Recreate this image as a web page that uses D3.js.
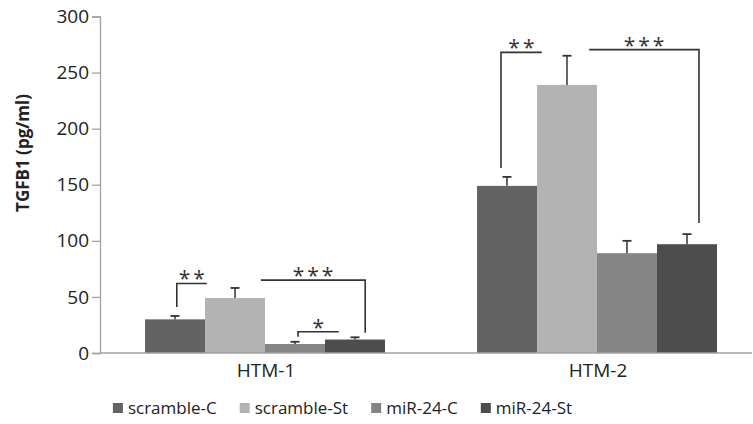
<!DOCTYPE html>
<html>
<head>
<meta charset="utf-8">
<script src="https://cdn.jsdelivr.net/npm/d3@7"></script>
<style>
  html, body { margin: 0; padding: 0; background: #fff; }
  svg { display: block; font-family: "Open Sans", sans-serif; }
</style>
</head>
<body>
<svg id="chart" width="753" height="424"></svg>
<script>
const categories = ["HTM-1", "HTM-2"];
const seriesNames = ["scramble-C", "scramble-St", "miR-24-C", "miR-24-St"];
const seriesColors = ["#636363", "#b3b3b3", "#858585", "#4d4d4d"];
const values = {
  "HTM-1": [30, 49, 8, 12],
  "HTM-2": [149, 239, 89, 97]
};
const errorTops = {
  "HTM-1": [33, 58, 10, 14],
  "HTM-2": [157, 265, 100, 106]
};
const yTicks = [0, 50, 100, 150, 200, 250, 300];
// significance brackets: group, from series (+fraction of bar), to series (+fraction), level, left leg bottom, right leg bottom, label
const brackets = [
  { g: "HTM-1", a: 0, fa: 0.53, b: 1, fb: 0.03, level: 62, legA: 41, legB: null, label: "**" },
  { g: "HTM-1", a: 1, fa: 0.93, b: 3, fb: 0.67, level: 65, legA: null, legB: 18, label: "***" },
  { g: "HTM-1", a: 2, fa: 0.55, b: 3, fb: 0.23, level: 19, legA: 14.5, legB: null, label: "*" },
  { g: "HTM-2", a: 0, fa: 0.40, b: 1, fb: 0.08, level: 268, legA: 165, legB: null, label: "**" },
  { g: "HTM-2", a: 1, fa: 0.87, b: 3, fb: 0.70, level: 270.5, legA: null, legB: 116, label: "***" }
];

const svg = d3.select("#chart");
const axisColor = "#a0a0a0";

const y = d3.scaleLinear().domain([0, 300]).range([353, 16.5]);
const x0 = d3.scaleBand().domain(categories).range([99, 763]).paddingInner(0.2771).paddingOuter(0.1386);
const x1 = d3.scaleBand().domain(seriesNames).range([0, x0.bandwidth()]).padding(0);

// y axis
const yAxis = svg.append("g").attr("transform", "translate(100,0)")
  .call(d3.axisLeft(y).tickValues(yTicks).tickSize(8).tickPadding(3));
yAxis.select(".domain").attr("stroke", axisColor).attr("stroke-width", 1.3);
yAxis.selectAll(".tick line").attr("stroke", axisColor).attr("stroke-width", 1.3);
yAxis.selectAll(".tick text").attr("fill", "#222").style("font-size", "19px").style("font-family", "'Open Sans', sans-serif");

// y title
svg.append("text")
  .attr("transform", "translate(29,153) rotate(-90)")
  .attr("text-anchor", "middle")
  .style("font-size", "17px").style("font-weight", "bold").attr("fill", "#222")
  .text("TGFB1 (pg/ml)");

// bars
const groups = svg.append("g").selectAll("g").data(categories).join("g")
  .attr("transform", d => `translate(${x0(d)},0)`);
groups.selectAll("rect").data(c => seriesNames.map((s, i) => ({ s, i, v: values[c][i] })))
  .join("rect")
  .attr("x", d => x1(d.s))
  .attr("width", x1.bandwidth())
  .attr("y", d => y(d.v))
  .attr("height", d => y(0) - y(d.v))
  .attr("fill", d => seriesColors[d.i]);

// error bars
groups.each(function(c) {
  const g = d3.select(this);
  seriesNames.forEach((s, i) => {
    const cx = x1(s) + x1.bandwidth() / 2;
    g.append("line").attr("x1", cx).attr("x2", cx)
      .attr("y1", y(values[c][i])).attr("y2", y(errorTops[c][i]))
      .attr("stroke", "#333").attr("stroke-width", 1.5);
    g.append("line").attr("x1", cx - 4.5).attr("x2", cx + 4.5)
      .attr("y1", y(errorTops[c][i])).attr("y2", y(errorTops[c][i]))
      .attr("stroke", "#333").attr("stroke-width", 1.8);
  });
});

// x axis line
svg.append("line").attr("x1", 100).attr("x2", 752).attr("y1", y(0)).attr("y2", y(0))
  .attr("stroke", axisColor).attr("stroke-width", 1.3);

// x labels
svg.append("g").selectAll("text").data(categories).join("text")
  .attr("x", d => x0(d) + x0.bandwidth() / 2 + 1)
  .attr("y", 377)
  .attr("text-anchor", "middle")
  .style("font-size", "19px").attr("fill", "#222")
  .text(d => d);

// significance brackets
const bg = svg.append("g");
brackets.forEach(b => {
  const xa = x0(b.g) + x1(seriesNames[b.a]) + b.fa * x1.bandwidth();
  const xb = x0(b.g) + x1(seriesNames[b.b]) + b.fb * x1.bandwidth();
  const yl = y(b.level);
  let path = "";
  if (b.legA !== null) path += `M${xa},${y(b.legA)}L${xa},${yl}L${xb},${yl}`;
  else path += `M${xa},${yl}L${xb},${yl}`;
  if (b.legB !== null) path += `L${xb},${y(b.legB)}`;
  bg.append("path").attr("d", path).attr("fill", "none").attr("stroke", "#333").attr("stroke-width", 1.6);
  bg.append("text")
    .attr("x", (xa + xb) / 2 + 1.5).attr("y", yl + 3)
    .attr("text-anchor", "middle")
    .style("font-size", "21px").style("letter-spacing", "3px").attr("fill", "#333")
    .text(b.label);
});

// legend
const legend = svg.append("g");
let lx = 0;
const items = [];
seriesNames.forEach((s, i) => {
  const it = legend.append("g");
  it.append("rect").attr("x", 0).attr("y", 403).attr("width", 10).attr("height", 10).attr("fill", seriesColors[i]);
  const t = it.append("text").attr("x", 15).attr("y", 414).style("font-size", "17px").attr("fill", "#222").text(s);
  items.push({ it, w: 15 + t.node().getComputedTextLength() });
});
const gap = 23;
const total = d3.sum(items, d => d.w) + gap * (items.length - 1);
lx = 342.5 - total / 2;
items.forEach(d => { d.it.attr("transform", `translate(${lx},0)`); lx += d.w + gap; });
</script>
</body>
</html>
